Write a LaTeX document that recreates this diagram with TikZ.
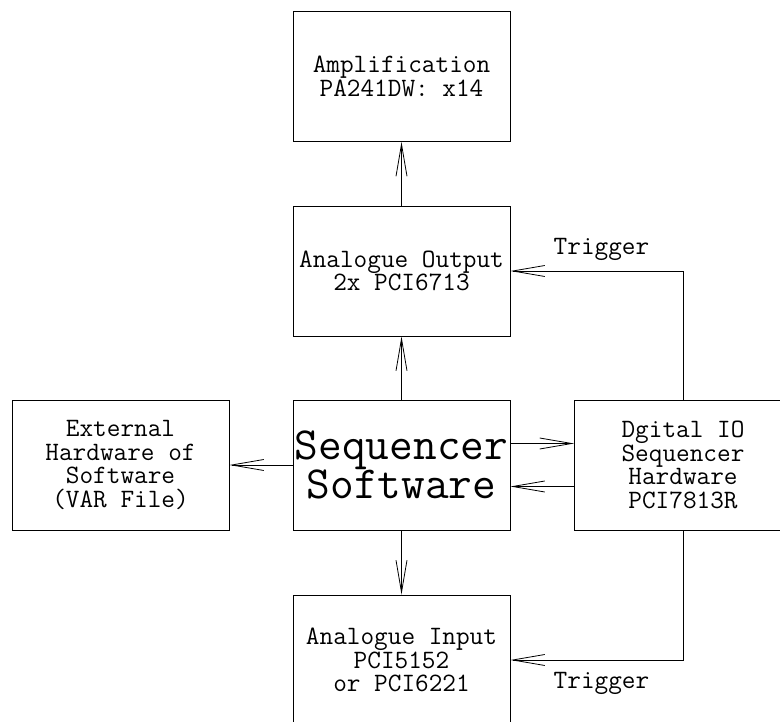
\documentclass[tikz,border=0pt]{standalone}
\usetikzlibrary{arrows.meta}
\tikzset{
  blk/.style={draw, line width=0.8pt, minimum width=217pt, minimum height=130pt, inner sep=0pt, align=center, font=\ttfamily\fontsize{26.5}{23.5}\selectfont},
  bigtxt/.style={font=\ttfamily\fontsize{46}{38}\selectfont},
  lbl/.style={font=\ttfamily\fontsize{26.5}{23.5}\selectfont, inner sep=0pt},
  conn/.style={line width=0.8pt, -{Straight Barb[length=32pt,width=11pt,line width=0.8pt]}}
}
\begin{document}
\begin{tikzpicture}[x=1pt,y=-1pt]
\clip (0,0) rectangle (780,722);
\node[blk] (amp) at (401.5,76.5) {Amplification\\PA241DW: x14};
\node[blk] (ao) at (401.5,271) {Analogue Output\\2x PCI6713};
\node[blk,bigtxt] (seq) at (401.5,465) {Sequencer\\Software};
\node[blk] (ext) at (120.5,465) {External\\Hardware of\\Software\\(VAR File)};
\node[blk] (dio) at (683,465) {Dgital IO\\Sequencer\\Hardware\\PCI7813R};
\node[blk] (ai) at (401.5,660) {Analogue Input\\PCI5152\\or PCI6221};
\coordinate (c1) at (683,271);
\coordinate (c2) at (683,660);
\draw[conn] (seq.north) -- (ao.south);
\draw[conn] (ao.north) -- (amp.south);
\draw[conn] (seq.west) -- (ext.east);
\draw[conn] ([yshift=21.5pt]seq.east) -- ([yshift=21.5pt]dio.west);
\draw[conn] ([yshift=-21.5pt]dio.west) -- ([yshift=-21.5pt]seq.east);
\draw[conn] (seq.south) -- (ai.north);
\draw[conn] (dio.north) -- (c1) -- (ao.east);
\draw[conn] (dio.south) -- (c2) -- (ai.east);
\node[lbl] (t1) at (601.5,249) {Trigger};
\node[lbl] (t2) at (601.5,683) {Trigger};
\end{tikzpicture}
\end{document}
